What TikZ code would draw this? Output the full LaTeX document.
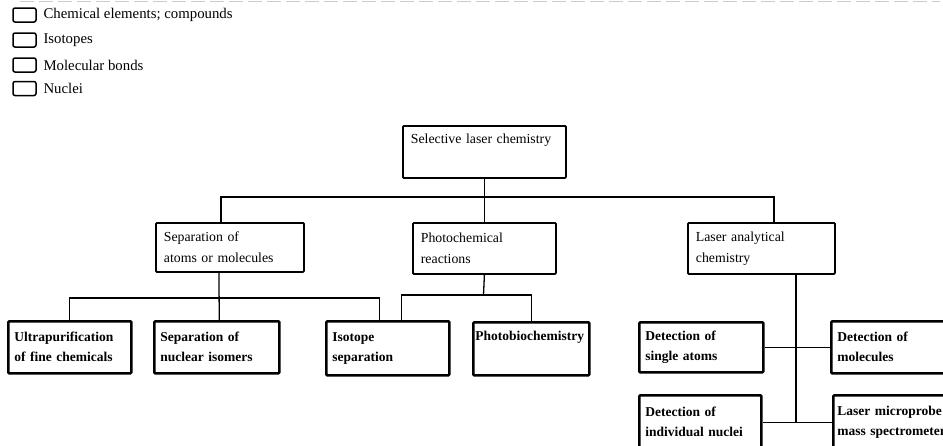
\documentclass[tikz,border=0pt]{standalone}
\usepackage{fontspec}
\setmainfont{Liberation Serif}
\begin{document}
\begin{tikzpicture}[x=1pt,y=-1pt,
  lvl/.style={draw, line width=1.8pt, inner xsep=8pt, inner ysep=0pt, align=left,
    anchor=north west, rounded corners=1pt, font=\fontsize{13.8}{21}\selectfont},
  leaf/.style={lvl, line width=2.6pt, inner xsep=6pt, font=\bfseries\fontsize{13.5}{20}\selectfont},
  conn/.style={line width=1.3pt},
  legbox/.style={draw, line width=1.5pt, rounded corners=2pt, minimum width=23pt, minimum height=14pt, inner sep=0pt},
  legtext/.style={anchor=west, font=\fontsize{14.8}{16}\selectfont}
]
\useasboundingbox (0,0) rectangle (943,445);
\clip (0,0) rectangle (943,445);

% faint scan line at top
\draw[gray!40, line width=1pt, dash pattern=on 14pt off 5pt] (20,1) -- (940,1);

% legend
\node[legbox] (lb1) at (24.5,15) {};
\node[legbox] (lb2) at (24.5,40) {};
\node[legbox] (lb3) at (24.5,65) {};
\node[legbox] (lb4) at (24.5,88.5) {};
\node[legtext] (lt1) at (40,15) {Chemical elements; compounds};
\node[legtext] (lt2) at (40,40) {Isotopes};
\node[legtext] (lt3) at (40,65) {Molecular bonds};
\node[legtext] (lt4) at (40,88.5) {Nuclei};

% level 1
\node[lvl, text width=147pt, minimum height=52pt] (top) at (402,125) {Selective laser chemistry\\ \strut};

% level 2
\node[lvl, text width=132pt, minimum height=49pt] (sep) at (155,222) {Separation of\\ atoms or molecules};
\node[lvl, text width=127pt, minimum height=51pt] (photo) at (412,222) {Photochemical\\ reactions};
\node[lvl, text width=131pt, minimum height=51pt] (laser) at (687,222) {Laser analytical\\ chemistry};

% level 3
\node[leaf, text width=111pt, minimum height=52pt] (ultra) at (7,320) {Ultrapurification\\ of fine chemicals};
\node[leaf, text width=113pt, minimum height=52pt] (sepnuc) at (153,320) {Separation of\\ nuclear isomers};
\node[leaf, text width=111pt, minimum height=54pt] (iso) at (325,320) {Isotope\\ separation};
\node[leaf, text width=112pt, minimum height=53pt, inner xsep=2pt] (photobio) at (472,321) {Photobiochemistry\\ \strut};
\node[leaf, text width=112pt, minimum height=50pt] (single) at (638,321) {Detection of\\ single atoms};
\node[leaf, text width=114pt, minimum height=52pt] (molec) at (830,320) {Detection of\\ molecules};
\node[leaf, text width=110pt, minimum height=54pt] (nuclei) at (638,394) {Detection of\\ individual nuclei};
\node[leaf, text width=118pt, minimum height=54pt, inner xsep=4pt] (micro) at (832,394) {Laser microprobe\\ mass spectrometer};

% connectors level 1 -> 2
\coordinate (busA) at (483.5,197);
\draw[conn] (top.south) -- (photo.north);
\draw[conn] ([xshift=-9pt]sep.north) |- (busA) -| ([xshift=12.5pt]laser.north);

% separation -> leaves
\coordinate (busB) at (218,298);
\draw[conn] ([xshift=-11pt]sep.south) -- ([xshift=2.5pt]sepnuc.north);
\draw[conn] (ultra.north) |- (busB) -| ([xshift=-8.5pt]iso.north);

% photochemical -> leaves
\coordinate (busC) at (483.5,295);
\draw[conn] (photo.south) -- (busC);
\draw[conn] ([xshift=13.5pt]iso.north) |- (busC) -| (photobio.north);

% laser analytical -> leaves
\coordinate (lstem) at ([xshift=34.5pt]laser.south);
\draw[conn] (lstem) -- (lstem |- nuclei.east);
\draw[conn] (single.east) -- (molec.west);
\draw[conn] (nuclei.east) -- (micro.west);
\end{tikzpicture}
\end{document}
